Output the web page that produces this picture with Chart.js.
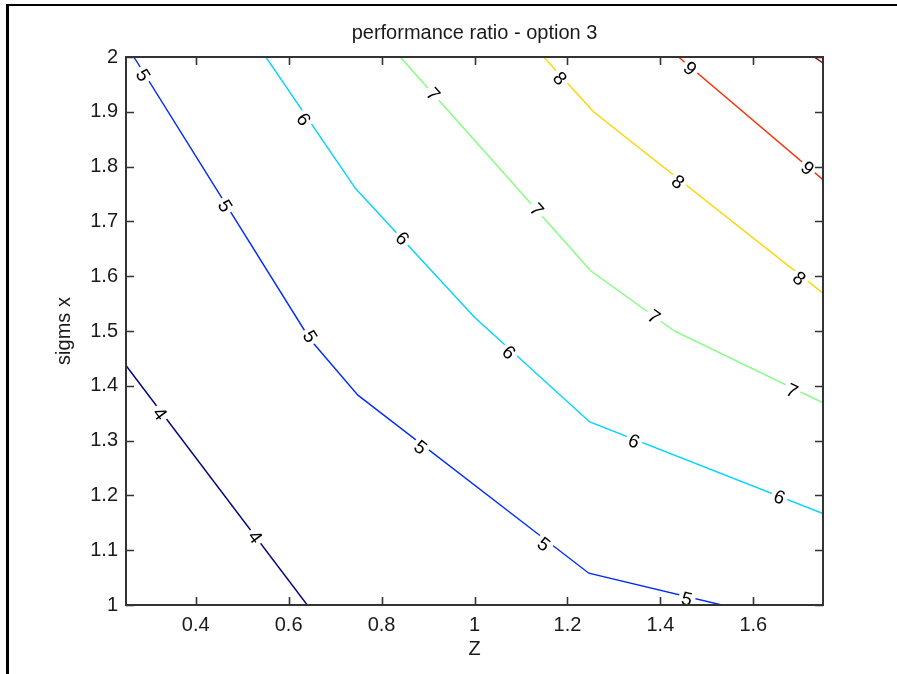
<!DOCTYPE html>
<html>
<head>
<meta charset="utf-8">
<script src="https://cdn.jsdelivr.net/npm/chart.js@4/dist/chart.umd.min.js"></script>
<style>
  html, body { margin: 0; padding: 0; background: #fff; }
</style>
</head>
<body>
<canvas id="contourChart" width="897" height="674"></canvas>
<script>
// contour levels and the polylines (Z, sigms x)
var levels = [4, 5, 6, 7, 8, 9, 10];
var lineColors = ['#000080', '#002bff', '#00d4ff', '#80ff80', '#ffd400', '#ff2b00', '#800000'];

var z4 = [0.25, 0.64];
var s4 = [1.437, 1.0];
var z5 = [0.267, 0.646, 0.749, 1.246, 1.532];
var s5 = [2.0, 1.485, 1.383, 1.058, 1.0];
var z6 = [0.551, 0.744, 1.0, 1.248, 1.75];
var s6 = [2.0, 1.76, 1.525, 1.334, 1.167];
var z7 = [0.84, 1.0, 1.25, 1.43, 1.75];
var s7 = [2.0, 1.848, 1.61, 1.50, 1.369];
var z8 = [1.149, 1.256, 1.75];
var s8 = [2.0, 1.9, 1.569];
var z9 = [1.439, 1.75];
var s9 = [2.0, 1.776];
var z10 = [1.731, 1.75];
var s10 = [2.0, 1.989];

var zLines = [z4, z5, z6, z7, z8, z9, z10];
var sLines = [s4, s5, s6, s7, s8, s9, s10];

// inline contour labels
var labelLevel = [4, 4, 5, 5, 5, 5, 5, 5, 6, 6, 6, 6, 6, 7, 7, 7, 7, 8, 8, 8, 9, 9];
var labelZ = [0.323, 0.528, 0.287, 0.463, 0.646, 0.884, 1.149, 1.457, 0.632, 0.845, 1.074, 1.343, 1.656, 0.911, 1.134, 1.386, 1.683, 1.184, 1.438, 1.699, 1.464, 1.717];
var labelS = [1.349, 1.124, 1.967, 1.728, 1.490, 1.288, 1.111, 1.011, 1.886, 1.669, 1.461, 1.299, 1.197, 1.932, 1.721, 1.526, 1.391, 1.961, 1.772, 1.596, 1.979, 1.797];

var zTicks = [0.4, 0.6, 0.8, 1, 1.2, 1.4, 1.6];
var sTicks = [1, 1.1, 1.2, 1.3, 1.4, 1.5, 1.6, 1.7, 1.8, 1.9, 2];

var fontFamily = '"Liberation Sans", Arial, sans-serif';
var textColor = '#1a1a1a';

var datasets = levels.map(function (lv, i) {
    return {
        label: String(lv),
        data: zLines[i].map(function (z, j) { return { x: z, y: sLines[i][j] }; }),
        showLine: true,
        borderColor: lineColors[i],
        borderWidth: 1.4,
        pointRadius: 0,
        fill: false,
        tension: 0
    };
});

// white page + outer frame
var framePlugin = {
    id: 'frame',
    beforeDraw: function (chart) {
        var c = chart.ctx;
        c.save();
        c.fillStyle = '#fff';
        c.fillRect(0, 0, chart.width, chart.height);
        c.fillStyle = '#000';
        c.fillRect(6, 4, chart.width - 6, 2);
        c.fillRect(6, 4, 3, chart.height - 4);
        c.restore();
    }
};

// rotated labels sitting on the lines
var labelPlugin = {
    id: 'clabels',
    afterDatasetsDraw: function (chart) {
        var c = chart.ctx;
        var xs = chart.scales.x, ys = chart.scales.y;
        c.save();
        c.font = '19px ' + fontFamily;
        c.textAlign = 'center';
        c.textBaseline = 'middle';
        for (var k = 0; k < labelZ.length; k++) {
            var li = levels.indexOf(labelLevel[k]);
            var zs = zLines[li], ss = sLines[li];
            var seg = 0;
            for (var j = 0; j < zs.length - 1; j++) {
                if (labelZ[k] >= zs[j] && labelZ[k] <= zs[j + 1]) { seg = j; break; }
            }
            var dx = xs.getPixelForValue(zs[seg + 1]) - xs.getPixelForValue(zs[seg]);
            var dy = ys.getPixelForValue(ss[seg + 1]) - ys.getPixelForValue(ss[seg]);
            var ang = Math.atan2(dy, dx);
            var px = xs.getPixelForValue(labelZ[k]);
            var py = ys.getPixelForValue(labelS[k]);
            var txt = String(labelLevel[k]);
            var w = c.measureText(txt).width;
            c.save();
            c.translate(px, py);
            c.rotate(ang);
            c.fillStyle = '#fff';
            c.fillRect(-w / 2 - 3, -8, w + 6, 16);
            c.fillStyle = '#000';
            c.fillText(txt, 0, 1);
            c.restore();
        }
        c.restore();
    }
};

// axes box with inward ticks on all four sides
var boxPlugin = {
    id: 'box',
    afterDraw: function (chart) {
        var c = chart.ctx, a = chart.chartArea;
        var xs = chart.scales.x, ys = chart.scales.y;
        var tl = 8;
        c.save();
        c.strokeStyle = '#333';
        c.lineWidth = 1.6;
        c.beginPath();
        zTicks.forEach(function (v) {
            var px = Math.round(xs.getPixelForValue(v)) + 0.5;
            c.moveTo(px, a.bottom); c.lineTo(px, a.bottom - tl);
            c.moveTo(px, a.top); c.lineTo(px, a.top + tl);
        });
        sTicks.forEach(function (v) {
            var py = Math.round(ys.getPixelForValue(v)) + 0.5;
            c.moveTo(a.left, py); c.lineTo(a.left + tl, py);
            c.moveTo(a.right, py); c.lineTo(a.right - tl, py);
        });
        c.stroke();
        c.lineWidth = 2;
        c.strokeRect(a.left, a.top, a.right - a.left, a.bottom - a.top);
        c.restore();
    }
};

var ctx = document.getElementById('contourChart').getContext('2d');
var contourChart = new Chart(ctx, {
    type: 'scatter',
    data: { datasets: datasets },
    plugins: [framePlugin, labelPlugin, boxPlugin],
    options: {
        responsive: false,
        animation: false,
        devicePixelRatio: 1,
        layout: { padding: { top: 0, right: 74, bottom: 0, left: 0 } },
        plugins: {
            legend: { display: false },
            tooltip: { enabled: false },
            title: {
                display: true,
                fullSize: false,
                text: 'performance ratio - option 3',
                color: textColor,
                font: { size: 20, weight: 'normal', family: fontFamily },
                padding: { top: 21, bottom: 12 }
            }
        },
        scales: {
            x: {
                type: 'linear',
                min: 0.25,
                max: 1.75,
                afterBuildTicks: function (s) { s.ticks = zTicks.map(function (v) { return { value: v }; }); },
                afterFit: function (s) { s.height = 69; },
                grid: { display: false, drawTicks: false },
                border: { display: false },
                ticks: {
                    autoSkip: false,
                    maxRotation: 0,
                    padding: 8,
                    color: textColor,
                    font: { size: 20, family: fontFamily },
                    callback: function (v) { return String(v); }
                },
                title: {
                    display: true,
                    text: 'Z',
                    color: textColor,
                    font: { size: 20, family: fontFamily },
                    padding: { top: 0, bottom: 13 }
                }
            },
            y: {
                type: 'linear',
                min: 1,
                max: 2,
                afterBuildTicks: function (s) { s.ticks = sTicks.map(function (v) { return { value: v }; }); },
                afterFit: function (s) { s.width = 126; },
                grid: { display: false, drawTicks: false },
                border: { display: false },
                ticks: {
                    autoSkip: false,
                    padding: 8,
                    color: textColor,
                    font: { size: 20, family: fontFamily },
                    callback: function (v) { return String(v); }
                },
                title: {
                    display: true,
                    text: 'sigms x',
                    color: textColor,
                    font: { size: 20, family: fontFamily },
                    padding: { top: 52, bottom: 0 }
                }
            }
        }
    }
});
</script>
</body>
</html>
